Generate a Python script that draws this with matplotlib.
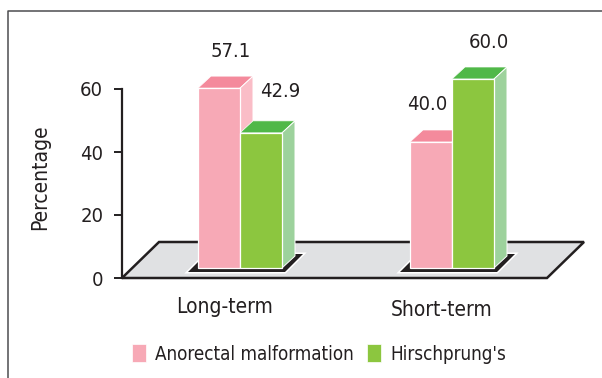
import matplotlib
matplotlib.use('Agg')
import matplotlib.pyplot as plt
from matplotlib.patches import Polygon, Rectangle

# Chart data
categories = ['Long-term', 'Short-term']
series_names = ['Anorectal malformation', "Hirschprung's"]
anorectal = [57.1, 40.0]
hirschprung = [42.9, 60.0]
y_ticks = [0, 20, 40, 60]

# Figure layout, in pixels of the 602x378 picture
W, H = 602, 378
PX_X = 212.0    # pixels between the two groups
PX_Y = 3.15     # pixels per percentage point
X0_PX = 240     # pixel of first group centre
Y0_PX = 278     # pixel of value 0

PINK, PINK_TOP, PINK_SIDE = '#f7a9b6', '#f48a9c', '#fabdc7'
GREEN, GREEN_TOP, GREEN_SIDE = '#8cc63f', '#50b848', '#9dd29c'
FLOOR = '#e0e1e3'
DARK = '#231f20'
TEXT = '#231f20'

plt.rcParams['font.family'] = ['DejaVu Sans']
plt.rcParams['font.stretch'] = 'condensed'


def dx(px):
    return px / PX_X


def dy(px):
    return px / PX_Y


def xd(px):
    return (px - X0_PX) / PX_X


def yd(px):
    return (Y0_PX - px) / PX_Y


fig = plt.figure(figsize=(W / 100, H / 100), dpi=100)
ax = fig.add_axes([0, 0, 1, 1])
ax.set_xlim(xd(0), xd(W))
ax.set_ylim(yd(H), yd(0))
ax.patch.set_alpha(0)

# Outer frame
ax.plot([xd(8), xd(8), xd(W)], [yd(H), yd(11), yd(11)], color='#4d4d4f', lw=1.1, zorder=1)

# Floor of the 3D chart
floor = [(xd(122), yd(278)), (xd(159), yd(242)), (xd(584), yd(242)), (xd(547), yd(278))]
ax.add_patch(Polygon(floor, closed=True, facecolor=FLOOR, edgecolor=DARK, lw=1.8, zorder=2))

bar_w = dx(42)
base = dy(10)
depth_x = dx(13)
depth_y = dy(12)


def draw_bar(x, value, front, top, side):
    # front face goes through ax.bar, top and side are built from the same value
    left = x
    right = x + bar_w
    y1 = base + value
    ax.bar(left, value, width=bar_w, bottom=base, align='edge', color=front,
           edgecolor='white', linewidth=0.9, zorder=5)
    ax.add_patch(Polygon([(left, y1), (left + depth_x, y1 + depth_y),
                          (right + depth_x, y1 + depth_y), (right, y1)],
                         closed=True, facecolor=top, edgecolor='white', lw=0.5, zorder=4))
    ax.add_patch(Polygon([(right, base), (right + depth_x, base + depth_y),
                          (right + depth_x, y1 + depth_y), (right, y1)],
                         closed=True, facecolor=side, edgecolor='white', lw=0.7, zorder=4))


for i in range(len(categories)):
    # black shadow under each pair of bars, white halo first then the black on top
    sl = i - bar_w - dx(10)
    sr = i + bar_w + dx(5)
    shadow = [(sl, yd(272)), (sr + dx(-2), yd(272)), (sr + dx(16), yd(254)), (sl + dx(18), yd(254))]
    ax.add_patch(Polygon(shadow, closed=True, facecolor='white', edgecolor='white', lw=2.2, zorder=3))
    ax.add_patch(Polygon(shadow, closed=True, facecolor=DARK, edgecolor='none', zorder=3.5))
    draw_bar(i - bar_w, anorectal[i], PINK, PINK_TOP, PINK_SIDE)
    draw_bar(i, hirschprung[i], GREEN, GREEN_TOP, GREEN_SIDE)

# Value labels
ax.text(0 - dx(9), base + anorectal[0] + dy(37), f'{anorectal[0]:.1f}', ha='center', va='center', fontsize=14.5, color=TEXT, zorder=6)
ax.text(0 + dx(40), base + hirschprung[0] + dy(41), f'{hirschprung[0]:.1f}', ha='center', va='center', fontsize=14.5, color=TEXT, zorder=6)
ax.text(1 - dx(25), base + anorectal[1] + dy(37), f'{anorectal[1]:.1f}', ha='center', va='center', fontsize=14.5, color=TEXT, zorder=6)
ax.text(1 + dx(37), base + hirschprung[1] + dy(37), f'{hirschprung[1]:.1f}', ha='center', va='center', fontsize=14.5, color=TEXT, zorder=6)

# Axis
for name in ['top', 'right', 'bottom']:
    ax.spines[name].set_visible(False)
ax.spines['left'].set_position(('data', xd(122)))
ax.spines['left'].set_bounds(0, y_ticks[-1])
ax.spines['left'].set_linewidth(1.6)
ax.spines['left'].set_color(DARK)
ax.spines['left'].set_zorder(6)
ax.set_yticks(y_ticks)
ax.tick_params(axis='y', length=5.5, width=1.4, color=DARK, pad=8, labelsize=14.5, labelcolor=TEXT)
ax.set_xticks([])
ax.text(xd(40), yd(177), 'Percentage', rotation=90, ha='center', va='center', fontsize=15, color=TEXT)

# Category labels, the second one sits a bit lower
ax.text(xd(225), yd(307), categories[0], ha='center', va='center', fontsize=15, color=TEXT)
ax.text(xd(442), yd(310), categories[1], ha='center', va='center', fontsize=15, color=TEXT)

# Legend
handles = [Rectangle((0, 0), 1, 1, facecolor=PINK, edgecolor='white', lw=0.5),
           Rectangle((0, 0), 1, 1, facecolor=GREEN, edgecolor='white', lw=0.5)]
ax.legend(handles, series_names, ncol=2, frameon=False, fontsize=13.5,
          loc='center', bbox_to_anchor=(319 / W, 1 - 354 / H), bbox_transform=fig.transFigure,
          handlelength=0.77, handleheight=1.07, handletextpad=0.48, columnspacing=0.7,
          labelcolor=TEXT, borderpad=0, borderaxespad=0)

fig.savefig('out.png', dpi=100)
plt.close(fig)
